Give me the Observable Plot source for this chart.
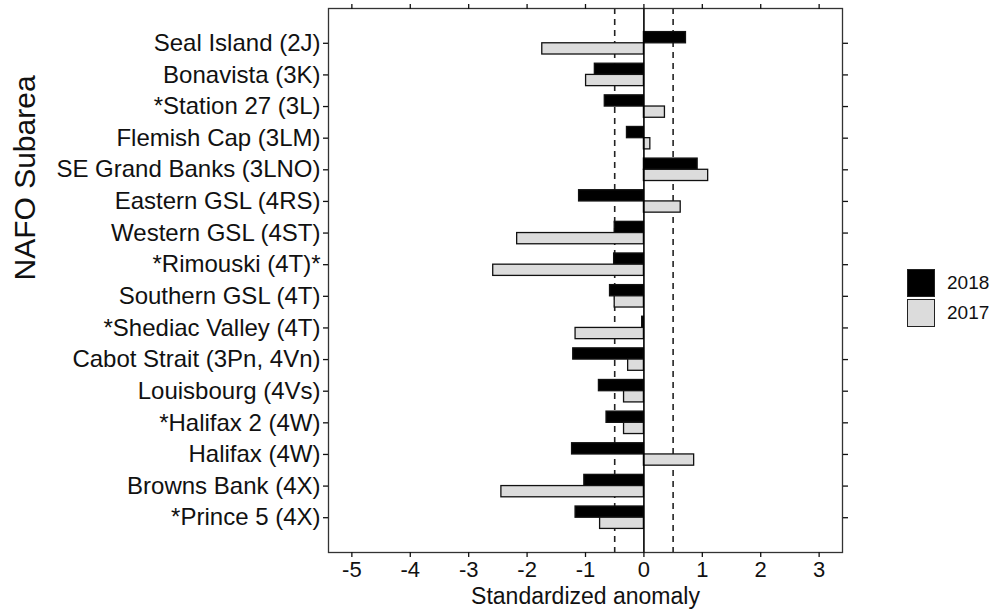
<!DOCTYPE html>
<html>
<head>
<meta charset="utf-8">
<script src="https://cdn.jsdelivr.net/npm/d3@7"></script>
<script src="https://cdn.jsdelivr.net/npm/@observablehq/plot@0.6"></script>
<style>
  body { margin: 0; background: #fff; font-family: "Liberation Sans", Arial, sans-serif; }
  #wrap { position: relative; width: 998px; height: 614px; }
  #legend { position: absolute; left: 907px; top: 268px; }
  .item { display: flex; align-items: center; height: 30px; }
  .sw { width: 26px; height: 26px; border: 1.5px solid #222; box-sizing: content-box; }
  .lab { margin-left: 12px; font-size: 19px; color: #111; }
</style>
</head>
<body>
<div id="wrap"></div>
<script>
const categories = ["Seal Island (2J)", "Bonavista (3K)", "*Station 27 (3L)", "Flemish Cap (3LM)",
  "SE Grand Banks (3LNO)", "Eastern GSL (4RS)", "Western GSL (4ST)", "*Rimouski (4T)*",
  "Southern GSL (4T)", "*Shediac Valley (4T)", "Cabot Strait (3Pn, 4Vn)", "Louisbourg (4Vs)",
  "*Halifax 2 (4W)", "Halifax (4W)", "Browns Bank (4X)", "*Prince 5 (4X)"];
const anom2018 = [0.72, -0.84, -0.67, -0.29, 0.92, -1.11, -0.50, -0.51, -0.58, -0.03, -1.21, -0.77, -0.64, -1.23, -1.02, -1.17];
const anom2017 = [-1.74, -0.99, 0.36, 0.11, 1.10, 0.63, -2.17, -2.58, -0.50, -1.17, -0.27, -0.34, -0.34, 0.86, -2.44, -0.75];
const years = ["2018", "2017"];
const yearFills = ["#000000", "#dcdcdc"];
const xTicks = [-5, -4, -3, -2, -1, 0, 1, 2, 3];
const refLines = [-0.5, 0.5];

const rows2018 = categories.map((c, i) => ({cat: c, v: anom2018[i]}));
const rows2017 = categories.map((c, i) => ({cat: c, v: anom2017[i]}));

const chart = Plot.plot({
  width: 998,
  height: 614,
  marginLeft: 328,
  marginRight: 156,
  marginTop: 8,
  marginBottom: 62,
  style: {fontFamily: "'Liberation Sans', Arial, sans-serif", color: "#111", background: "white"},
  x: {domain: [-5.4, 3.4]},
  y: {type: "band", domain: categories, paddingInner: 0, paddingOuter: 0.6, round: false},
  marks: [
    Plot.ruleX(refLines, {stroke: "#222", strokeWidth: 1.6, strokeDasharray: "6,5"}),
    Plot.barX(rows2018, {x: "v", y: "cat", fill: yearFills[0], stroke: "#111", strokeWidth: 1.3, insetTop: 4.6, insetBottom: 15.8}),
    Plot.barX(rows2017, {x: "v", y: "cat", fill: yearFills[1], stroke: "#111", strokeWidth: 1.3, insetTop: 15.8, insetBottom: 4.6}),
    Plot.ruleX([0], {stroke: "#000", strokeWidth: 1.6}),
    Plot.frame({stroke: "#333", strokeWidth: 1.3}),
    Plot.axisX({anchor: "bottom", ticks: xTicks, tickSize: 5, tickPadding: 4, fontSize: 22, label: null, strokeWidth: 1.3, tickFormat: d => String(d)}),
    Plot.axisX({anchor: "top", ticks: xTicks, tickSize: 5, tickFormat: () => "", label: null, strokeWidth: 1.3}),
    Plot.axisY({anchor: "left", tickSize: 5, tickPadding: 3, fontSize: 24, label: null, strokeWidth: 1.3}),
    Plot.axisY({anchor: "right", tickSize: 5, tickFormat: () => "", label: null, strokeWidth: 1.3}),
    Plot.text(["Standardized anomaly"], {frameAnchor: "bottom", dy: 51, fontSize: 23, fill: "#111"}),
    Plot.text(["NAFO Subarea"], {frameAnchor: "left", dx: -303, rotate: -90, fontSize: 30, fill: "#111"})
  ]
});

const wrap = document.getElementById("wrap");
wrap.appendChild(chart);

const legend = document.createElement("div");
legend.id = "legend";
years.forEach((y, i) => {
  const item = document.createElement("div");
  item.className = "item";
  const sw = document.createElement("div");
  sw.className = "sw";
  sw.style.background = yearFills[i];
  const lab = document.createElement("span");
  lab.className = "lab";
  lab.textContent = y;
  item.appendChild(sw);
  item.appendChild(lab);
  legend.appendChild(item);
});
wrap.appendChild(legend);
</script>
</body>
</html>
